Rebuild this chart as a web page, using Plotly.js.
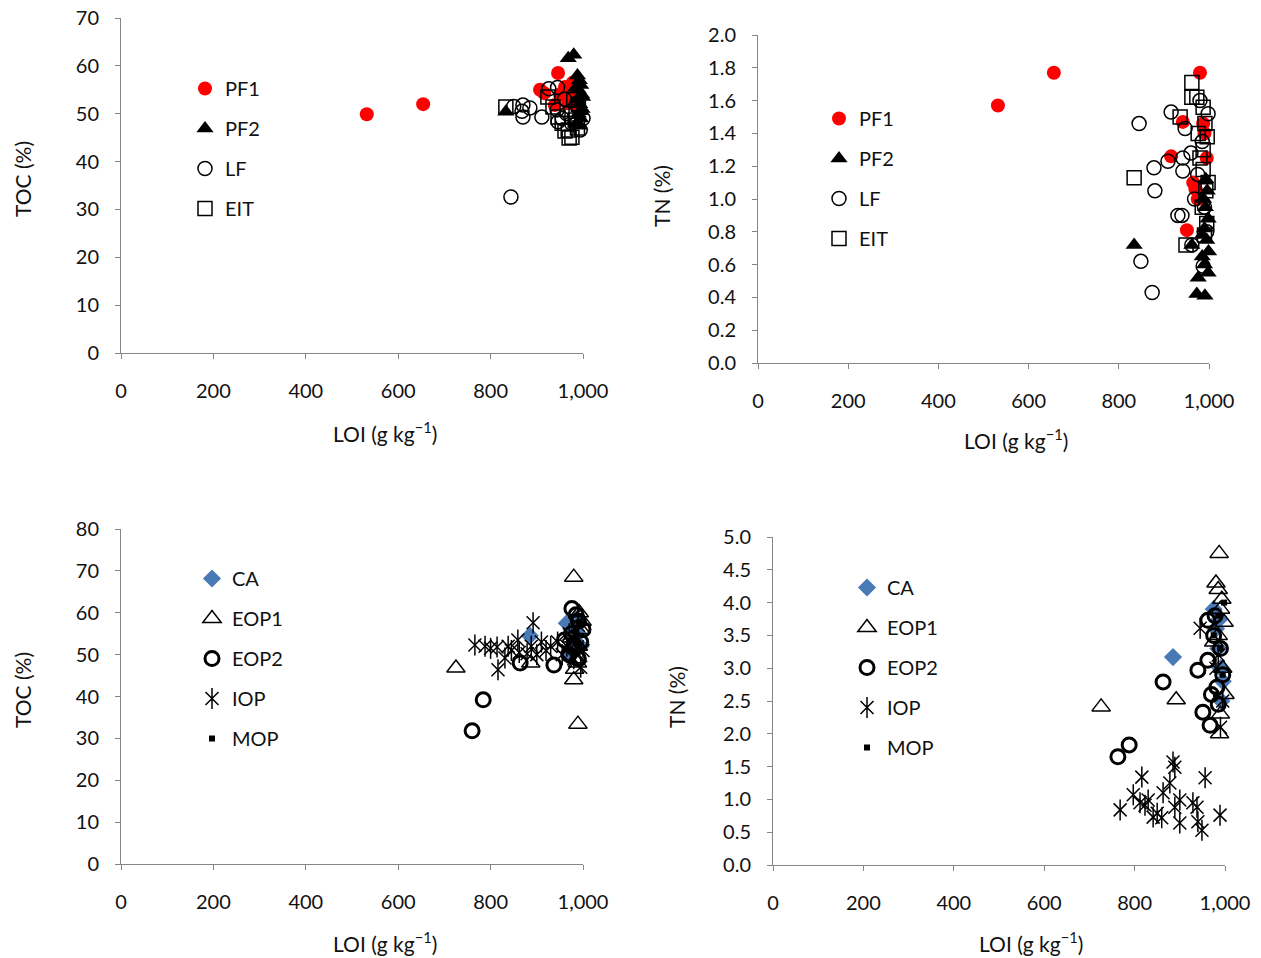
<!DOCTYPE html>
<html>
<head>
<meta charset="utf-8">
<script src="https://cdn.plot.ly/plotly-3.0.1.min.js"></script>
<style>
  html, body { margin: 0; padding: 0; background: #ffffff; }
  #chart { width: 1261px; height: 958px; }
</style>
</head>
<body>
<div id="chart"></div>
<script>
// ---- Panel A: TOC (%) vs LOI (g/kg) ----
const aPF1Loi = [532, 654, 946, 916, 907, 961, 968, 939, 978, 985, 975, 990, 950];
const aPF1Toc = [49.9, 52.0, 58.5, 54.3, 55.0, 55.6, 52.2, 51.8, 56.5, 54.0, 53.0, 51.0, 54.0];
const aPF2Loi = [833, 968, 980, 988, 992, 995, 990, 997, 988, 993, 998, 990, 995, 987, 993, 999, 985, 996];
const aPF2Toc = [50.4, 61.6, 62.3, 58.0, 57.0, 56.0, 55.0, 54.0, 53.0, 52.0, 51.0, 50.0, 49.0, 48.0, 47.5, 53.5, 55.5, 50.5];
const aLFLoi = [844, 850, 868, 870, 885, 870, 911, 926, 944, 946, 945, 955, 965, 975, 994, 985, 960, 1000];
const aLFToc = [32.6, 51.5, 50.5, 51.8, 51.2, 49.3, 49.3, 55.2, 50.8, 48.3, 55.5, 49.0, 50.0, 48.0, 46.6, 52.0, 53.0, 49.0];
const aEITLoi = [833, 924, 935, 946, 955, 961, 968, 970, 976, 983, 985, 990, 988, 980];
const aEITToc = [51.4, 53.5, 51.4, 49.3, 48.0, 46.4, 46.6, 44.9, 45.1, 48.7, 50.5, 52.0, 47.0, 53.0];

// ---- Panel B: TN (%) vs LOI (g/kg) ----
const bPF1Loi = [532, 656, 980, 942, 987, 916, 995, 965, 970, 951, 990, 975];
const bPF1Tn = [1.57, 1.77, 1.77, 1.47, 1.46, 1.26, 1.25, 1.10, 1.06, 0.81, 1.40, 1.00];
const bPF2Loi = [834, 976, 998, 973, 991, 962, 985, 995, 990, 998, 992, 988, 996, 993, 999, 985, 990];
const bPF2Tn = [0.72, 0.52, 0.55, 0.42, 0.41, 0.72, 0.65, 0.75, 0.82, 0.88, 0.95, 1.00, 1.05, 1.12, 0.68, 0.78, 0.60];
const bLFLoi = [845, 849, 874, 880, 878, 909, 916, 931, 940, 942, 947, 942, 962, 987, 998, 985, 975, 990, 995, 968, 960, 980];
const bLFTn = [1.46, 0.62, 0.43, 1.05, 1.19, 1.23, 1.53, 0.90, 0.90, 1.25, 1.43, 1.17, 0.72, 0.59, 1.52, 1.35, 1.15, 0.95, 0.80, 1.00, 1.28, 1.60];
const bEITLoi = [834, 949, 962, 962, 936, 973, 987, 991, 996, 987, 976, 980, 987, 993, 985, 995, 990, 998];
const bEITTn = [1.13, 0.72, 1.71, 1.62, 1.50, 1.62, 1.56, 1.46, 1.38, 1.30, 1.40, 1.25, 1.18, 1.05, 0.95, 0.85, 0.78, 1.10];

// ---- Panel C: TOC (%) vs LOI (g/kg) ----
const cCALoi = [885, 965, 975, 985, 990, 995, 980, 970];
const cCAToc = [54.5, 57.5, 56.0, 58.5, 55.0, 52.0, 53.0, 50.0];
const cEOP1Loi = [725, 980, 989, 980, 982, 887, 985, 990, 995, 975, 998, 992, 988];
const cEOP1Toc = [46.8, 68.5, 33.4, 44.0, 46.5, 48.0, 49.0, 52.0, 56.0, 54.0, 58.0, 60.0, 48.0];
const cEOP2Loi = [760, 784, 976, 985, 990, 937, 864, 975, 980, 995, 970, 990, 960, 1000];
const cEOP2Toc = [31.8, 39.2, 61.0, 59.5, 58.0, 47.5, 48.0, 55.0, 52.0, 53.0, 50.0, 49.0, 53.5, 56.0];
const cIOPLoi = [766, 788, 800, 814, 816, 831, 838, 845, 859, 862, 879, 888, 892, 900, 910, 920, 930, 945, 955, 965, 970, 980, 985, 990, 1000, 995];
const cIOPToc = [52.3, 52.0, 51.5, 51.8, 46.4, 49.2, 52.0, 51.0, 53.5, 50.5, 50.2, 52.0, 57.6, 50.0, 53.0, 51.0, 52.0, 53.0, 50.0, 52.0, 55.0, 49.0, 53.0, 57.0, 51.0, 47.0];
const cMOPLoi = [985, 990, 995, 980, 975];
const cMOPToc = [55.0, 52.0, 57.0, 50.0, 54.0];

// ---- Panel D: TN (%) vs LOI (g/kg) ----
const dCALoi = [885, 975, 980, 985, 990, 995, 988, 992];
const dCATn = [3.17, 3.90, 3.60, 3.30, 3.00, 2.80, 3.75, 2.50];
const dEOP1Loi = [726, 892, 987, 980, 985, 993, 990, 988, 998, 975, 995, 1000, 990, 985];
const dEOP1Tn = [2.41, 2.52, 4.75, 4.30, 4.20, 4.05, 3.90, 2.00, 3.70, 3.40, 3.00, 2.60, 2.30, 3.50];
const dEOP2Loi = [763, 788, 863, 940, 962, 962, 951, 967, 982, 975, 990, 985, 995, 978, 970];
const dEOP2Tn = [1.65, 1.83, 2.79, 2.97, 3.12, 3.73, 2.33, 2.13, 2.71, 3.50, 3.30, 2.45, 2.90, 3.80, 2.60];
const dIOPLoi = [768, 797, 812, 816, 823, 830, 841, 850, 860, 863, 878, 885, 889, 889, 900, 900, 929, 938, 940, 949, 956, 989, 945, 990, 985, 995, 980];
const dIOPTn = [0.84, 1.07, 0.95, 1.34, 0.91, 0.99, 0.73, 0.79, 0.72, 1.10, 1.25, 1.57, 1.49, 0.88, 0.99, 0.64, 0.95, 0.88, 0.66, 0.53, 1.33, 0.76, 3.61, 2.10, 3.20, 2.50, 3.00];
const dMOPLoi = [980, 990, 985, 995, 975, 998];
const dMOPTn = [2.60, 3.30, 3.80, 2.90, 3.50, 4.00];

const W = 1261, H = 958;
const FONT = 'Lato, "Open Sans", sans-serif';
const INK = '#111111';
const AXIS = '#868686';
const RED = '#ff0000';
const BLUE = '#4a7ab5';

// pixel helpers for paper coordinates
const px = v => v / W;
const py = v => 1 - v / H;

function mk(x, y, name, xa, ya, legend, marker, group, extra) {
  return Object.assign({
    type: 'scatter', mode: 'markers', x: x, y: y, name: name,
    xaxis: xa, yaxis: ya, legend: legend, legendgroup: group,
    marker: marker, cliponaxis: false, hoverinfo: 'x+y+name'
  }, extra || {});
}

const filledCircle = { symbol: 'circle', size: 14, color: RED, line: { width: 0 } };
const filledTri = { symbol: 'triangle-up', size: 15, color: '#000000', line: { width: 0 } };
const openCircle = { symbol: 'circle-open', size: 14, color: '#000000', line: { width: 1.5 } };
const openSquare = { symbol: 'square-open', size: 14, color: '#000000', line: { width: 1.5 } };
const diamond = { symbol: 'diamond', size: 14, color: BLUE, line: { width: 0 } };
const openTri = { symbol: 'triangle-up-open', size: 16, color: '#000000', line: { width: 1.5 } };
const thickCircle = { symbol: 'circle-open', size: 14, color: '#000000', line: { width: 3 } };
// six-ray star = diagonal cross + vertical stroke
const starX = { symbol: 'x-thin-open', size: 13, color: '#000000', line: { width: 1.5 } };
const starBar = { symbol: 'line-ns-open', size: 15, color: '#000000', line: { width: 1.5 } };
const smallSquare = { symbol: 'square', size: 6, color: '#000000', line: { width: 0 } };

const traces = [
  mk(aPF1Loi, aPF1Toc, 'PF1', 'x', 'y', 'legend', filledCircle, 'a1'),
  mk(aPF2Loi, aPF2Toc, 'PF2', 'x', 'y', 'legend', filledTri, 'a2'),
  mk(aLFLoi, aLFToc, 'LF', 'x', 'y', 'legend', openCircle, 'a3'),
  mk(aEITLoi, aEITToc, 'EIT', 'x', 'y', 'legend', openSquare, 'a4'),

  mk(bPF1Loi, bPF1Tn, 'PF1', 'x2', 'y2', 'legend2', filledCircle, 'b1'),
  mk(bPF2Loi, bPF2Tn, 'PF2', 'x2', 'y2', 'legend2', filledTri, 'b2'),
  mk(bLFLoi, bLFTn, 'LF', 'x2', 'y2', 'legend2', openCircle, 'b3'),
  mk(bEITLoi, bEITTn, 'EIT', 'x2', 'y2', 'legend2', openSquare, 'b4'),

  mk(cCALoi, cCAToc, 'CA', 'x3', 'y3', 'legend3', diamond, 'c1'),
  mk(cEOP1Loi, cEOP1Toc, 'EOP1', 'x3', 'y3', 'legend3', openTri, 'c2'),
  mk(cEOP2Loi, cEOP2Toc, 'EOP2', 'x3', 'y3', 'legend3', thickCircle, 'c3'),
  mk(cIOPLoi, cIOPToc, 'IOP', 'x3', 'y3', 'legend3', starX, 'c4', { uid: 'iopc' }),
  mk(cIOPLoi, cIOPToc, 'IOP', 'x3', 'y3', 'legend3', starBar, 'c4', { uid: 'iopcbar', showlegend: false }),
  mk(cMOPLoi, cMOPToc, 'MOP', 'x3', 'y3', 'legend3', smallSquare, 'c5'),

  mk(dCALoi, dCATn, 'CA', 'x4', 'y4', 'legend4', diamond, 'd1'),
  mk(dEOP1Loi, dEOP1Tn, 'EOP1', 'x4', 'y4', 'legend4', openTri, 'd2'),
  mk(dEOP2Loi, dEOP2Tn, 'EOP2', 'x4', 'y4', 'legend4', thickCircle, 'd3'),
  mk(dIOPLoi, dIOPTn, 'IOP', 'x4', 'y4', 'legend4', starX, 'd4', { uid: 'iopd' }),
  mk(dIOPLoi, dIOPTn, 'IOP', 'x4', 'y4', 'legend4', starBar, 'd4', { uid: 'iopdbar', showlegend: false }),
  mk(dMOPLoi, dMOPTn, 'MOP', 'x4', 'y4', 'legend4', smallSquare, 'd5')
];

function xAxis(domain, anchor) {
  return {
    domain: domain, anchor: anchor, range: [0, 1000], dtick: 200, tick0: 0,
    tickformat: ',d', showgrid: false, zeroline: false,
    showline: true, linecolor: AXIS, linewidth: 1,
    ticks: 'outside', ticklen: 5, tickcolor: AXIS, tickwidth: 1,
    ticklabelstandoff: 15,
    tickfont: { family: FONT, size: 20, color: INK }, fixedrange: true
  };
}
function yAxis(domain, anchor, range, dtick, fmt) {
  return {
    domain: domain, anchor: anchor, range: range, dtick: dtick, tick0: 0,
    tickformat: fmt, showgrid: false, zeroline: false,
    showline: true, linecolor: AXIS, linewidth: 1,
    ticks: 'outside', ticklen: 5, tickcolor: AXIS, tickwidth: 1,
    ticklabelstandoff: 12,
    tickfont: { family: FONT, size: 20, color: INK }, fixedrange: true
  };
}

function legendAt(left, top) {
  return {
    x: px(left), y: py(top), xanchor: 'left', yanchor: 'top',
    bgcolor: 'rgba(0,0,0,0)', borderwidth: 0,
    font: { family: FONT, size: 20, color: INK },
    traceorder: 'grouped', tracegroupgap: 11, itemwidth: 30,
    itemclick: false, itemdoubleclick: false
  };
}

const titleFont = { family: FONT, size: 21, color: INK };
function note(text, x, y, angle) {
  return {
    text: text, xref: 'paper', yref: 'paper', x: px(x), y: py(y),
    xanchor: 'center', yanchor: 'middle', showarrow: false,
    textangle: angle || 0, font: titleFont
  };
}

const LOI = 'LOI (g kg<sup>−1</sup>)';

const layout = {
  width: W, height: H,
  margin: { l: 0, r: 0, t: 0, b: 0 },
  paper_bgcolor: '#ffffff', plot_bgcolor: 'rgba(0,0,0,0)',
  font: { family: FONT, size: 20, color: INK },
  showlegend: true,
  xaxis: xAxis([px(121), px(583)], 'y'),
  yaxis: yAxis([py(353), py(18)], 'x', [0, 70], 10, 'd'),
  xaxis2: xAxis([px(758), px(1209)], 'y2'),
  yaxis2: yAxis([py(363), py(35)], 'x2', [0, 2], 0.2, '.1f'),
  xaxis3: xAxis([px(121), px(583)], 'y3'),
  yaxis3: yAxis([py(864), py(529)], 'x3', [0, 80], 10, 'd'),
  xaxis4: xAxis([px(773), px(1225)], 'y4'),
  yaxis4: yAxis([py(865), py(537)], 'x4', [0, 5], 0.5, '.1f'),
  legend: legendAt(185, 69),
  legend2: legendAt(819, 99),
  legend3: legendAt(192, 559),
  legend4: legendAt(847, 568),
  annotations: [
    note(LOI, 385, 432), note(LOI, 1016, 439),
    note(LOI, 385, 942), note(LOI, 1031, 942),
    note('TOC (%)', 22, 179, -90), note('TN (%)', 661, 196, -90),
    note('TOC (%)', 22, 690, -90), note('TN (%)', 676, 697, -90)
  ]
};

// The IOP legend glyph shows only the diagonal cross; add the vertical
// stroke that the companion trace draws, so the key shows the full star.
function completeStarKeys(gd) {
  [['legend3', 'iopcbar'], ['legend4', 'iopdbar']].forEach(function (pair) {
    const bar = gd.querySelector('g.trace' + pair[1] + ' path.point');
    if (!bar) return;
    const items = gd.querySelectorAll('g.' + pair[0] + ' g.traces');
    items.forEach(function (item) {
      const label = item.querySelector('text');
      if (!label || label.textContent.trim() !== 'IOP') return;
      const glyph = item.querySelector('g.legendpoints path.scatterpts');
      if (!glyph || glyph.getAttribute('data-star')) return;
      glyph.setAttribute('d', glyph.getAttribute('d') + bar.getAttribute('d'));
      glyph.setAttribute('data-star', '1');
    });
  });
}

Plotly.newPlot('chart', traces, layout, { displayModeBar: false }).then(function (gd) {
  completeStarKeys(gd);
  gd.on('plotly_afterplot', function () { completeStarKeys(gd); });
});
</script>
</body>
</html>
